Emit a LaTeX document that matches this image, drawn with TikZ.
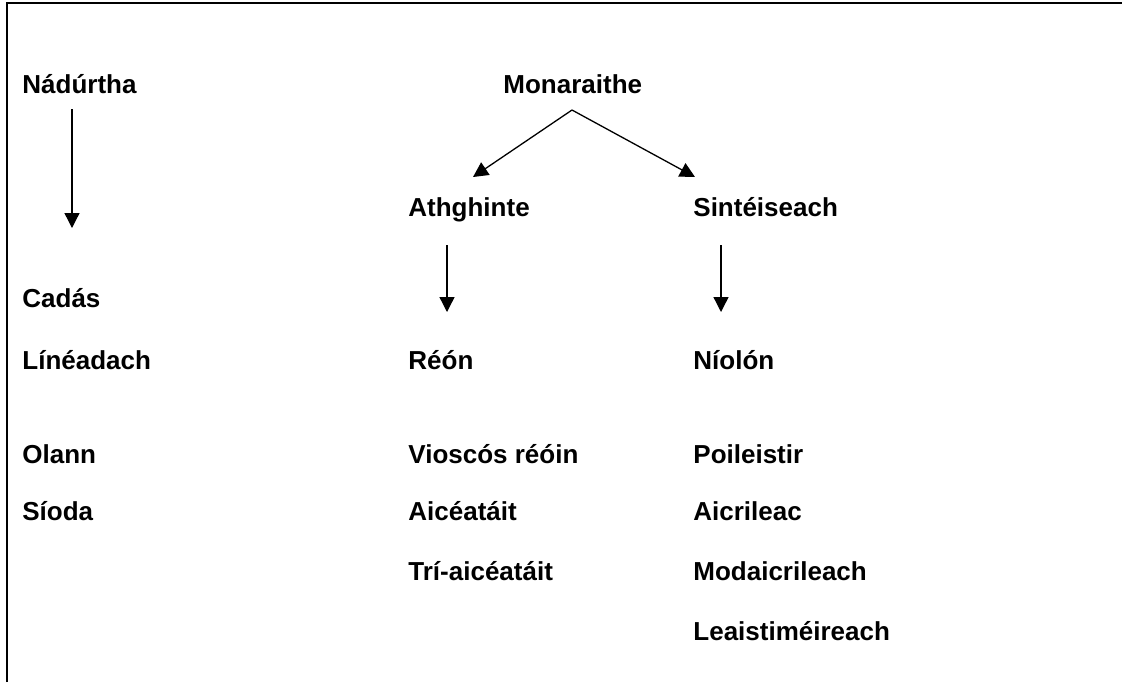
\documentclass[tikz,border=0pt]{standalone}
\usepackage{fontspec}
\setmainfont{Liberation Sans}
\usetikzlibrary{arrows.meta}

\tikzset{
  lbl/.style={anchor=base west, inner sep=0pt, font=\fontsize{13}{15}\selectfont\bfseries},
  arr/.style={line width=0.65pt, -{Triangle[width=7.5pt,length=7.5pt]}}
}

\begin{document}
\begin{tikzpicture}[x=0.5pt,y=-0.5pt]
\useasboundingbox (0,0) rectangle (1122,682);
\draw[line width=0.85pt] (7,682) -- (7,3) -- (1122,3);

\node[lbl] (nad) at (22,93) {Nádúrtha};
\node[lbl] (mon) at (503,93) {Monaraithe};
\node[lbl] (ath) at (408,216) {Athghinte};
\node[lbl] (sin) at (693,216) {Sintéiseach};

\node[lbl] (cad) at (22,307) {Cadás};
\node[lbl] (lin) at (22,369) {Línéadach};
\node[lbl] (ola) at (22,463) {Olann};
\node[lbl] (sio) at (22,520) {Síoda};

\node[lbl] (reo) at (408,369) {Réón};
\node[lbl] (vis) at (408,463) {Vioscós réóin};
\node[lbl] (aic) at (408,520) {Aicéatáit};
\node[lbl] (tri) at (408,580) {Trí-aicéatáit};

\node[lbl] (nio) at (693,369) {Níolón};
\node[lbl] (poi) at (693,463) {Poileistir};
\node[lbl] (acr) at (693,520) {Aicrileac};
\node[lbl] (mod) at (693,580) {Modaicrileach};
\node[lbl] (lea) at (693,640) {Leaistiméireach};

\coordinate (nadA) at (72,109);
\coordinate (nadB) at (72,228);
\coordinate (monA) at (572,110);
\coordinate (athA) at (473,177);
\coordinate (sinA) at (695,177);
\coordinate (athB) at (447,245);
\coordinate (athC) at (447,312);
\coordinate (sinB) at (721,245);
\coordinate (sinC) at (721,312);

\draw[arr] (nadA) -- (nadB);
\draw[arr] (monA) -- (athA);
\draw[arr] (monA) -- (sinA);
\draw[arr] (athB) -- (athC);
\draw[arr] (sinB) -- (sinC);
\end{tikzpicture}
\end{document}
